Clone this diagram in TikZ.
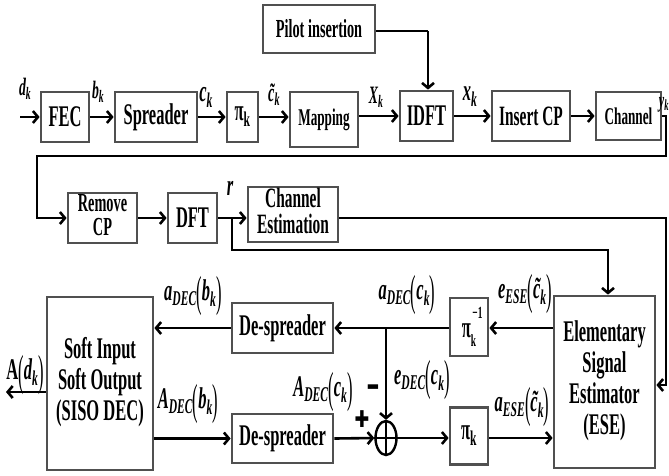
\documentclass[tikz,border=0pt]{standalone}
\usepackage{fontspec}
\setmainfont{Liberation Serif}
\newfontfamily\heavy{DejaVu Sans}
\usepackage{graphicx}
\usetikzlibrary{arrows.meta,shapes.geometric}
\definecolor{boxgray}{HTML}{505050}
\newcommand\sq[1]{\scalebox{0.55}[1]{#1}}
\newcommand\fs[2][]{\fontsize{#2}{#2}\selectfont}
\newcommand\lp{{\mdseries\upshape\raisebox{-0.2em}{\scalebox{1}[1.45]{(}}}}
\newcommand\rp{{\mdseries\upshape\raisebox{-0.2em}{\scalebox{1}[1.45]{)}}}}
\newcommand\sub[1]{\textsubscript{#1}}
\newcommand\ml[3]{\sq{\fontsize{#1}{#2}\selectfont\begin{tabular}{@{}c@{}}#3\end{tabular}}}
\tikzset{
  box/.style={draw=boxgray, line width=2.8pt, fill=white, inner sep=0pt, font=\bfseries},
  lab/.style={inner sep=0pt, font=\bfseries\itshape},
  wire/.style={line width=2.6pt, line join=miter},
  conn/.style={wire, -{Straight Barb[length=5pt,width=12pt]}},
}
\begin{document}
\begin{tikzpicture}[x=1pt,y=-1pt]
\useasboundingbox (0,0) rectangle (669,475);
% top row
\node[box,minimum width=112,minimum height=48] (pilot) at (319,29) {\sq{\fs{26}Pilot insertion}};
\node[box,minimum width=48,minimum height=50] (fec) at (65,117) {\sq{\fs{30}FEC}};
\node[box,minimum width=82,minimum height=50] (spr) at (156,117) {\sq{\fs{30}Spreader}};
\node[box,minimum width=31,minimum height=50] (pia) at (242.5,117) {\sq{\fs{30}π\sub{k}}};
\node[box,minimum width=68,minimum height=55] (map) at (324,119.5) {\raisebox{-4pt}{\sq{\fs{24}Mapping}}};
\node[box,minimum width=53,minimum height=50] (idft) at (426.5,116) {\sq{\fs{30}IDFT}};
\node[box,minimum width=78,minimum height=50] (icp) at (531,116) {\sq{\fs{28}Insert CP}};
\node[box,minimum width=65,minimum height=48] (chan) at (628.5,116) {\sq{\fs{24}Channel}};
% second row
\node[box,minimum width=69,minimum height=50] (rcp) at (102.5,218) {\ml{26}{23}{Remove\\CP}};
\node[box,minimum width=49,minimum height=50] (dft) at (192.5,218) {\sq{\fs{30}DFT}};
\node[box,minimum width=90,minimum height=55] (ce) at (293,214.5) {\ml{28}{25}{Channel\\Estimation}};
% bottom
\node[box,minimum width=106,minimum height=173] (siso) at (100,383.5) {\ml{30}{31}{Soft Input\\Soft Output\\(SISO DEC)}};
\node[box,minimum width=101,minimum height=50] (dsa) at (282.5,328) {\sq{\fs{30}De-spreader}};
\node[box,minimum width=101,minimum height=49] (dsb) at (282.5,438.5) {\sq{\fs{30}De-spreader}};
\node[box,minimum width=38,minimum height=58] (pinv) at (469,327) {\sq{\fs{30}π\rlap{\raisebox{0.62em}{\fs{17}\,−1}}\raisebox{-0.3em}{\fs{17}k}}};
\node[box,minimum width=38,minimum height=57] (pib) at (469,436) {\sq{\fs{30}π\sub{k}}};
\node[draw=black,line width=2.4pt,ellipse,minimum width=21,minimum height=34,inner sep=0pt] (sum) at (386,438) {};
\draw[wire,line width=2pt] (sum.north) -- (sum.south) (sum.west) -- (sum.east);
\node[box,minimum width=101,minimum height=172] (ese) at (604.5,382) {\ml{30}{31}{Elementary\\Signal\\Estimator\\(ESE)}};

% coordinates
\coordinate (in) at (20,117);
\coordinate (ya) at (666,116);
\coordinate (yb) at (666,156);
\coordinate (yc) at (37,156);
\coordinate (yd) at (37,218);
\coordinate (pc) at (428,31);
\coordinate (j) at (232,218);
\coordinate (jb) at (232,250);
\coordinate (jc) at (608,250);
\coordinate (ca) at (666,218);
\coordinate (cb) at (666,385);
\coordinate (jj) at (386,328);
\coordinate (out) at (6,392);

% top connectors
\draw[conn] (in) -- (fec.west);
\draw[conn] (fec.east) -- (spr.west);
\draw[conn] (spr.east) -- (pia.west);
\draw[conn] (pia.east) -- (map.west |- pia.east);
\draw[conn] (map.east |- idft.west) -- (idft.west);
\draw[conn] (idft.east) -- (icp.west);
\draw[conn] (icp.east) -- (chan.west);
\draw[wire] (pilot.east |- pc) -- (pc);
\draw[conn] (pc) -- (pc |- idft.north);
\draw[conn] (chan.east) -- (ya) -- (yb) -- (yc) -- (yd) -- (rcp.west);
\draw[conn] (rcp.east) -- (dft.west);
\draw[conn] (dft.east) -- (ce.west |- dft.east);
\draw[conn] (j) -- (jb) -- (jc) -- (jc |- ese.north);
\draw[conn] (ce.east |- j) -- (ca) -- (cb) -- (ese.east |- cb);

% bottom connectors
\draw[conn] (ese.west |- dsa) -- (pinv.east |- dsa);
\draw[conn] (pinv.west |- dsa) -- (dsa.east);
\draw[conn] (dsa.west) -- (siso.east |- dsa);
\draw[conn] (siso.east |- dsb) -- (dsb.west);
\draw[conn] (dsb.east) -- (sum.west);
\draw[conn] (sum.east) -- (pib.west |- sum.east);
\draw[conn] (pib.east |- sum.east) -- (ese.west |- sum.east);
\draw[conn] (jj) -- (sum.north);
\draw[conn] (siso.west |- out) -- (out);

% top labels
\node[lab] (ldk) at (25,89) {\sq{\fs{25}d\sub{k}}};
\node[lab] (lbk) at (98,92) {\sq{\fs{25}b\sub{k}}};
\node[lab] (lck) at (206,97) {\sq{\fs{30}c\sub{k}}};
\node[lab] (ltck) at (274,95) {\sq{\fs{26}\~{c}\sub{k}}};
\node[lab] (lXk) at (376,97) {\sq{\fs{25}X\sub{k}}};
\node[lab] (lxk) at (470,97) {\sq{\fs{30}x\sub{k}}};
\node[lab,anchor=south east] (lyk) at (669,112) {\sq{\fs{22}y\sub{k}}};
\node[lab] (lr) at (230,188) {\sq{\fs{30}r}};

% bottom labels
\node[lab] (ladb) at (193,296) {\sq{\fs{30}a\sub{DEC}\lp b\sub{k}\rp}};
\node[lab] (lAdb) at (188,404) {\sq{\fs{30}A\sub{DEC}\lp b\sub{k}\rp}};
\node[lab] (lAd) at (25,375) {\sq{\fs{30}{\upshape A}\lp d\sub{k}\rp}};
\node[lab] (ladc) at (407,295) {\sq{\fs{30}a\sub{DEC}\lp c\sub{k}\rp}};
\node[lab] (lees) at (525,294) {\sq{\fs{30}e\sub{ESE}\lp\~{c}\sub{k}\rp}};
\node[lab] (lAdc) at (323,392) {\sq{\fs{30}A\sub{DEC}\lp c\sub{k}\rp}};
\node[lab] (ledc) at (422,380) {\sq{\fs{30}e\sub{DEC}\lp c\sub{k}\rp}};
\node[lab] (laes) at (522,407) {\sq{\fs{30}a\sub{ESE}\lp\~{c}\sub{k}\rp}};
\node[inner sep=0pt] (minus) at (373,392) {\scalebox{0.75}[1.8]{\heavy\bfseries\fs{22}−}};
\node[inner sep=0pt] (plus) at (362,419) {\scalebox{0.8}[1.05]{\heavy\fs{22}✚}};
\end{tikzpicture}
\end{document}
